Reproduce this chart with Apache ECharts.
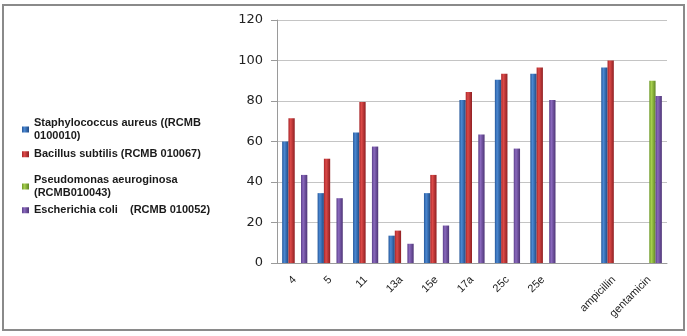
<!DOCTYPE html>
<html>
<head>
<meta charset="utf-8">
<script src="https://cdn.jsdelivr.net/npm/echarts@6/dist/echarts.min.js"></script>
<style>
  body { margin: 0; background: #fff; }
  #chart { width: 687px; height: 336px; position: absolute; left: 0; top: 0; }
  #frame {
    position: absolute;
    left: 2px;
    top: 4px;
    width: 679px;
    height: 323px;
    border: 2px solid #8a8a8a;
    pointer-events: none;
  }
</style>
</head>
<body>
<div id="chart"></div>
<div id="frame"></div>
<script>
// compounds / reference drugs on the x axis
var categories = ["4", "5", "11", "13a", "15e", "17a", "25c", "25e", "", "ampicillin", "gentamicin"];

var seriesNames = [
  "Staphylococcus aureus ((RCMB\n0100010)",
  "Bacillus subtilis (RCMB 010067)",
  "Pseudomonas aeuroginosa\n(RCMB010043)",
  "Escherichia coli    (RCMB 010052)"
];

var staphValues = [60, 34.5, 64.5, 13.5, 34.5, 80.5, 90.5, 93.5, null, 96.5, null];
var bacillusValues = [71.5, 51.5, 79.5, 16, 43.5, 84.5, 93.5, 96.5, null, 100, null];
var pseudoValues = [null, null, null, null, null, null, null, null, null, null, 90];
var ecoliValues = [43.5, 32, 57.5, 9.5, 18.5, 63.5, 56.5, 80.5, null, null, 82.5];

var yTicks = { min: 0, max: 120, interval: 20 };

// colours: edge / highlight / edge, for the shaded look
var palette = [
  ["#25579a", "#4b88d2", "#1f4a85"],
  ["#a8262a", "#dc4a48", "#8f1f22"],
  ["#6f9a2a", "#a6cf4e", "#5f8524"],
  ["#5b3f8a", "#8a69bd", "#4d3476"]
];

function barColor(c) {
  return new echarts.graphic.LinearGradient(0, 0, 1, 0, [
    { offset: 0, color: c[0] },
    { offset: 0.35, color: c[1] },
    { offset: 1, color: c[2] }
  ]);
}

var allValues = [staphValues, bacillusValues, pseudoValues, ecoliValues];
var legendTops = [112, 143, 169, 199];

const chart = echarts.init(document.getElementById("chart"));

chart.setOption({
  animation: false,
  legend: seriesNames.map(function(name, i) {
    return {
      data: [name],
      orient: "vertical",
      left: 17,
      top: legendTops[i],
      itemWidth: 7,
      itemHeight: 6,
      itemGap: 4,
      icon: "rect",
      textStyle: {
        fontFamily: "Liberation Sans",
        fontSize: 11,
        fontWeight: "bold",
        color: "#1a1a1a",
        lineHeight: 12.5
      }
    };
  }),
  grid: {
    left: 277,
    right: 20,
    top: 20,
    bottom: 73
  },
  xAxis: {
    type: "category",
    data: categories,
    axisLine: { lineStyle: { color: "#9a9a9a", width: 1 } },
    axisTick: { length: 5, lineStyle: { color: "#9a9a9a" } },
    axisLabel: {
      rotate: 45,
      interval: 0,
      margin: 15,
      fontFamily: "Liberation Sans",
      fontSize: 11,
      color: "#1a1a1a"
    }
  },
  yAxis: {
    type: "value",
    min: yTicks.min,
    max: yTicks.max,
    interval: yTicks.interval,
    axisLine: { show: true, lineStyle: { color: "#9a9a9a" } },
    axisTick: { show: true, length: 6, lineStyle: { color: "#9a9a9a" } },
    axisLabel: {
      margin: 14,
      fontFamily: "DejaVu Sans",
      fontSize: 13,
      color: "#222"
    },
    splitLine: { lineStyle: { color: "#c4c4c4", width: 1 } }
  },
  series: allValues.map(function(vals, i) {
    return {
      name: seriesNames[i],
      type: "bar",
      data: vals,
      barGap: "0%",
      barCategoryGap: "29%",
      itemStyle: { color: barColor(palette[i]) }
    };
  }),
  color: palette.map(function(c) { return c[1]; })
});
</script>
</body>
</html>
